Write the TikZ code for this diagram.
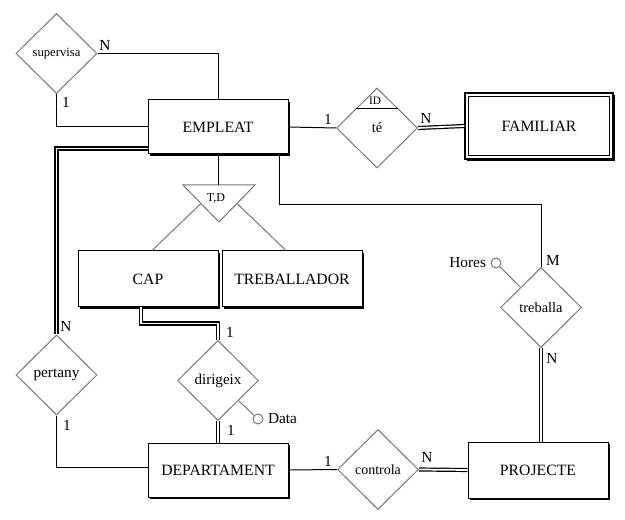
\documentclass[tikz,border=0pt]{standalone}
\usepackage{fontspec}
\setmainfont{Liberation Serif}
\usetikzlibrary{shapes.geometric,shadows,calc}
\definecolor{dgray}{RGB}{120,120,120}
\begin{document}
\begin{tikzpicture}[x=0.75pt,y=-0.75pt,line width=0.75pt,
  ent/.style={draw, fill=white, minimum width=105pt, minimum height=40.5pt, inner sep=0pt,
    font=\fontsize{11.8}{14}\selectfont,
    drop shadow={shadow xshift=1.3pt, shadow yshift=-1.3pt, opacity=1, fill=black}},
  rel/.style={diamond, draw=dgray, fill=white, minimum width=60.75pt, minimum height=60pt, inner sep=0pt,
    font=\fontsize{10.8}{13}\selectfont},
  dbl/.style={double, double distance=1.3pt, line width=0.9pt},
  lbl/.style={font=\fontsize{11.5}{13}\selectfont, inner sep=0pt},
  attr/.style={circle, draw=dgray, minimum size=7.5pt, inner sep=0pt}]
\useasboundingbox (0,0) rectangle (625,520);

% entities
\node[ent] (emp) at (218,127) {EMPLEAT};
\node[ent, minimum width=111pt, minimum height=49.5pt, line width=1pt] (fam) at (539,126) {FAMILIAR};
\draw ([shift={(3pt,-3pt)}]fam.north west) rectangle ([shift={(-3pt,3pt)}]fam.south east);
\node[ent, minimum height=42pt] (cap) at (148,279) {CAP};
\node[ent, minimum height=42pt] (trab) at (292,279) {TREBALLADOR};
\node[ent] (dep) at (218,470) {DEPARTAMENT};
\node[ent, minimum height=42pt] (proj) at (538,470) {PROJECTE};

% relationships
\node[rel, font=\fontsize{9.5}{11}\selectfont] (sup) at (56.5,53.5) {supervisa};
\node[rel] (te) at (377,128) {té};
\node[rel, font=\fontsize{11.5}{13}\selectfont] (per) at (56.5,375) {pertany};
\node[rel, font=\fontsize{11.3}{13}\selectfont] (dir) at (218,380.5) {dirigeix};
\node[rel] (treb) at (541,307.5) {treballa};
\node[rel, font=\fontsize{10.5}{13}\selectfont] (con) at (378,469.5) {controla};

% ID marker
\draw ($(te.north)+(-21,21)$) -- ($(te.north)+(21,21)$);
\node[font=\fontsize{8.5}{10}\selectfont, inner sep=0pt] (idl) at ($(te.north)+(-2,13)$) {ID};

% T,D triangle
\coordinate (tdl) at (183,185);
\coordinate (tdr) at (255,185);
\coordinate (tda) at (219,222);
\coordinate (tdtop) at (218,185);
\draw[dgray] (tdl) -- (tdr) -- (tda) -- cycle;
\node[font=\fontsize{9}{11}\selectfont, inner sep=0pt] (tdlab) at (216,198) {T,D};
\draw (emp.south) -- (tdtop);
\draw[dgray] ($(tdl)!0.5!(tda)$) -- ([xshift=3pt]cap.north);
\draw[dgray] ($(tdr)!0.5!(tda)$) -- ([xshift=-4.5pt]trab.north);

% attributes
\node[attr] (hores) at (496,263) {};
\node[lbl, anchor=east] (horesl) at ([xshift=-3pt]hores.west) {Hores};
\node[attr] (data) at (258,419) {};
\node[lbl, anchor=west] (datal) at ([xshift=3pt]data.east) {Data};
\draw[dgray] (hores) -- (treb.north west);
\draw[dgray] (dir.south east) -- (data);

% connectors
\draw (sup.east) -| (emp.north);
\draw (sup.south) |- (emp.west);
\draw (emp.east) -- (te.west);
\draw[dbl] (te.east) -- (fam.west);
\draw[dbl] ([yshift=4.5pt]emp.south west) -| (per.north);
\draw (per.south) |- ([yshift=2.25pt]dep.west);
\coordinate (bend) at (541,205);
\draw ([xshift=-6.75pt]emp.south east) |- (bend) -- (treb.north);
\draw[dbl] (treb.south) -- (treb.south |- proj.north);
\draw (dep.east) -- (con.west);
\draw[dbl] (con.east) -- (proj.west);
\draw[dbl] ([xshift=-5.25pt]cap.south) -- ++(0,16) -| (dir.north);
\draw[dbl] (dir.south) -- (dep.north);

% cardinalities
\node[lbl] (c1) at (105,45) {N};
\node[lbl] (c2) at (66,102) {1};
\node[lbl] (c3) at (328,119) {1};
\node[lbl] (c4) at (426,118) {N};
\node[lbl] (c5) at (553,260) {M};
\node[lbl] (c6) at (552,358) {N};
\node[lbl] (c7) at (328,461) {1};
\node[lbl] (c8) at (427,457) {N};
\node[lbl] (c9) at (66,326) {N};
\node[lbl] (c10) at (67,425) {1};
\node[lbl] (c11) at (230,332) {1};
\node[lbl] (c12) at (231,430) {1};
\end{tikzpicture}
\end{document}
